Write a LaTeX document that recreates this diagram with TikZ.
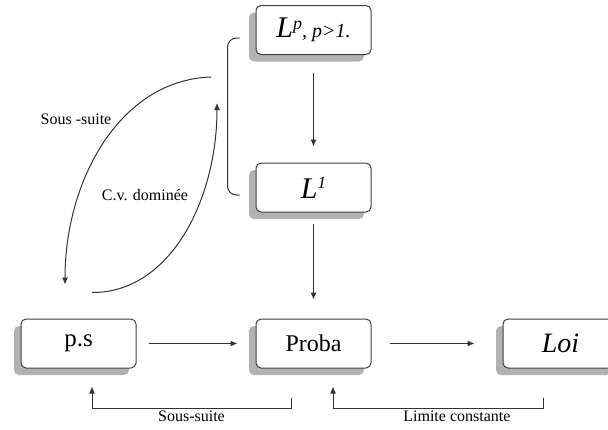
\documentclass[tikz,border=0pt]{standalone}
\usepackage{fontspec}
\setmainfont{Liberation Serif}
\usetikzlibrary{arrows.meta,shadows}

\begin{document}
\begin{tikzpicture}[x=1pt,y=-1pt]
        \tikzstyle{every node}=[font=\fontsize{16}{19}\selectfont]
        \tikzstyle{boite}=[draw=black!75, line width=1pt, fill=white, rounded corners=5pt,
            minimum width=115pt, minimum height=49pt, inner sep=0pt,
            drop shadow={shadow xshift=-7pt, shadow yshift=-7pt, fill=black!30, opacity=1}]
        \tikzstyle{trait}=[draw=black!80, line width=1pt]
        \tikzstyle{fleche}=[trait, -{Latex[length=7pt,width=6pt]}]

        \useasboundingbox (0,0) rectangle (608,429);
        \clip (0,0) rectangle (608,429);

        % les espaces
        \node[boite] (lp) at (313.5,30) {\fontsize{30}{34}\selectfont\textit{L}\raisebox{8pt}{\fontsize{18}{20}\selectfont\textit{p}}\fontsize{20}{24}\selectfont\textit{, p>1.}};
        \node[boite] (lun) at (313.5,187.5) {\fontsize{30}{34}\selectfont\textit{L}\raisebox{10pt}{\fontsize{17}{20}\selectfont\textit{1}}};
        \node[boite] (ps) at (78.5,343.5) {\fontsize{25}{30}\selectfont p.s};
        \node[boite] (proba) at (313.5,343.5) {\fontsize{24}{28}\selectfont Proba};
        \node[boite] (loi) at (560.5,343.5) {\fontsize{28}{32}\selectfont\textit{Loi}};

        \coordinate (accA) at (211,77);
        \coordinate (accB) at (217,103);

        % implications
        \draw[fleche, shorten <=18pt, shorten >=16pt] (lp) -- (lun);
        \draw[fleche, shorten <=11pt, shorten >=19pt] (lun) -- (proba);
        \draw[fleche, shorten <=12pt, shorten >=18pt] (ps) -- (proba);
        \draw[fleche, shorten <=18pt, shorten >=28pt] (proba) -- (loi);

        \draw[fleche] ([shift={(-22.5,29)}]proba.south) |- node[pos=0.75, below, inner sep=2pt] (lblss) {Sous-suite}
            ([shift={(13.5,40)}]ps.south) -- ([shift={(13.5,18)}]ps.south);
        \draw[fleche] ([shift={(-17.5,29)}]loi.south) |- node[pos=0.705, below, inner sep=2pt] (lblcst) {Limite constante}
            ([shift={(19.5,40)}]proba.south) -- ([shift={(19.5,18)}]proba.south);

        % accolade
        \draw[trait, rounded corners=9pt] ([shift={(-16,8)}]lp.west) -- ([shift={(-28,8)}]lp.west)
            -- ([shift={(-28,7.5)}]lun.west) -- ([shift={(-16,7.5)}]lun.west);

        \draw[fleche] (accA) .. controls (120,80) and (65,180) .. ([shift={(-13.5,-34)}]ps.north);
        \draw[fleche] ([shift={(13.5,-26)}]ps.north) .. controls (170,293) and (217,200) .. (accB);

        \node (lblsous) at (76,119) {Sous -suite};
        \node (lblcv) at (145,195) {C.v. dominée};

    \end{tikzpicture}
\end{document}
